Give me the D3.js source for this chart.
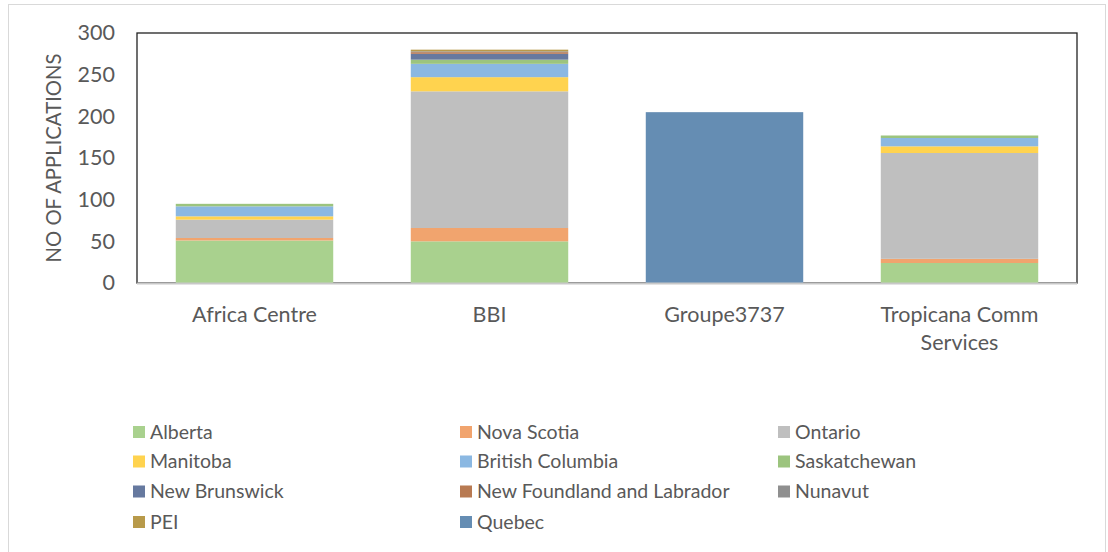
<!DOCTYPE html>
<html>
<head>
<meta charset="utf-8">
<script src="https://cdn.jsdelivr.net/npm/d3@7"></script>
<style>
  body { margin: 0; background: #ffffff; font-family: Lato, "Open Sans", sans-serif; }
  #chart text { fill: #595959; }
</style>
</head>
<body>
<div id="chart"></div>
<script>
// ==============================
// DATA
// ==============================
const organisations = ["Africa Centre", "BBI", "Groupe3737", "Tropicana Comm Services"];
const provinces = ["Alberta", "Nova Scotia", "Ontario", "Manitoba", "British Columbia",
  "Saskatchewan", "New Brunswick", "New Foundland and Labrador", "Nunavut", "PEI", "Quebec"];
const provinceColors = ["#a9d18e", "#f1a46e", "#bfbfbf", "#ffd34f", "#8bb8e2",
  "#9cc47e", "#66799f", "#b87a52", "#8f8f8f", "#b89a4a", "#658db3"];

// applications per province, one value per organisation (same order as organisations)
const alberta      = [51, 50, 0, 24];
const novaScotia   = [3, 16, 0, 5];
const ontario      = [22, 164, 0, 127];
const manitoba     = [4, 17, 0, 8];
const britishCol   = [12, 16, 0, 10];
const saskatchewan = [3, 5, 0, 3];
const newBrunswick = [0, 7, 0, 0];
const newFoundland = [0, 2, 0, 0];
const nunavut      = [0, 1, 0, 0];
const pei          = [0, 2, 0, 0];
const quebec       = [0, 0, 205, 0];

const yTicks = [0, 50, 100, 150, 200, 250, 300];

const seriesValues = [alberta, novaScotia, ontario, manitoba, britishCol, saskatchewan,
  newBrunswick, newFoundland, nunavut, pei, quebec];

// ==============================
// SVG SETUP
// ==============================
const width = 1108;
const height = 552;
const margin = { left: 137, right: 31, top: 33, bottom: 269 }; // plot: 137..1077, 33..283

const svg = d3.select("#chart").append("svg")
  .attr("width", width)
  .attr("height", height);

// outer chart frame
svg.append("rect")
  .attr("x", 8.5).attr("y", 4.5)
  .attr("width", 1097).attr("height", 560)
  .attr("fill", "#ffffff")
  .attr("stroke", "#d9d9d9");

const plotW = width - margin.left - margin.right;
const plotH = height - margin.top - margin.bottom;

const x = d3.scaleBand()
  .domain(organisations)
  .range([margin.left, margin.left + plotW])
  .paddingInner(0.33)
  .paddingOuter(0.165);

const y = d3.scaleLinear()
  .domain([0, 300])
  .range([margin.top + plotH, margin.top]);

// table for stack: one row per organisation
const table = organisations.map((org, i) => {
  const row = { org };
  provinces.forEach((p, j) => { row[p] = seriesValues[j][i]; });
  return row;
});

const stacked = d3.stack().keys(provinces)(table);
const color = d3.scaleOrdinal().domain(provinces).range(provinceColors);

// plot area border
svg.append("rect")
  .attr("x", margin.left).attr("y", margin.top)
  .attr("width", plotW).attr("height", plotH)
  .attr("fill", "none")
  .attr("stroke", "#222222")
  .attr("stroke-width", 1.3);

// bars
svg.append("g")
  .selectAll("g")
  .data(stacked)
  .join("g")
  .attr("fill", d => color(d.key))
  .selectAll("rect")
  .data(d => d)
  .join("rect")
  .attr("x", d => x(d.data.org))
  .attr("width", x.bandwidth())
  .attr("y", d => y(d[1]))
  .attr("height", d => y(d[0]) - y(d[1]));

// bottom axis line
svg.append("line")
  .attr("x1", margin.left).attr("x2", margin.left + plotW)
  .attr("y1", y(0) + 0.5).attr("y2", y(0) + 0.5)
  .attr("stroke", "#c8c8c8")
  .attr("stroke-width", 2);

// y axis labels
const yAxis = svg.append("g")
  .attr("transform", `translate(${margin.left}, 0)`)
  .call(d3.axisLeft(y).tickValues(yTicks).tickSize(0).tickPadding(22));
yAxis.select(".domain").remove();
yAxis.selectAll("text")
  .attr("font-family", "Lato, sans-serif")
  .attr("font-size", 21.5);

// y title
svg.append("text")
  .attr("transform", `translate(61, ${margin.top + plotH / 2}) rotate(-90)`)
  .attr("text-anchor", "middle")
  .attr("font-size", 20.3)
  .text("NO OF APPLICATIONS");

// category labels (wrap long ones)
const catLines = { "Tropicana Comm Services": ["Tropicana Comm", "Services"] };
const xLabels = svg.append("g");
organisations.forEach(org => {
  const lines = catLines[org] || [org];
  const t = xLabels.append("text")
    .attr("text-anchor", "middle")
    .attr("font-size", 21.5)
    .attr("x", x(org) + x.bandwidth() / 2)
    .attr("y", 322);
  lines.forEach((ln, i) => {
    t.append("tspan")
      .attr("x", x(org) + x.bandwidth() / 2)
      .attr("dy", i === 0 ? 0 : 28)
      .text(ln);
  });
});

// ==============================
// LEGEND
// ==============================
const legendCols = [133, 460, 778];
const legendRows = [432, 461.5, 491.5, 522];
const legend = svg.append("g");
provinces.forEach((p, i) => {
  const cx = legendCols[i % 3];
  const cy = legendRows[Math.floor(i / 3)];
  legend.append("rect")
    .attr("x", cx).attr("y", cy - 6)
    .attr("width", 12).attr("height", 12)
    .attr("fill", color(p));
  legend.append("text")
    .attr("x", cx + 17).attr("y", cy)
    .attr("dy", "0.35em")
    .attr("font-size", 19.5)
    .text(p);
});
</script>
</body>
</html>
